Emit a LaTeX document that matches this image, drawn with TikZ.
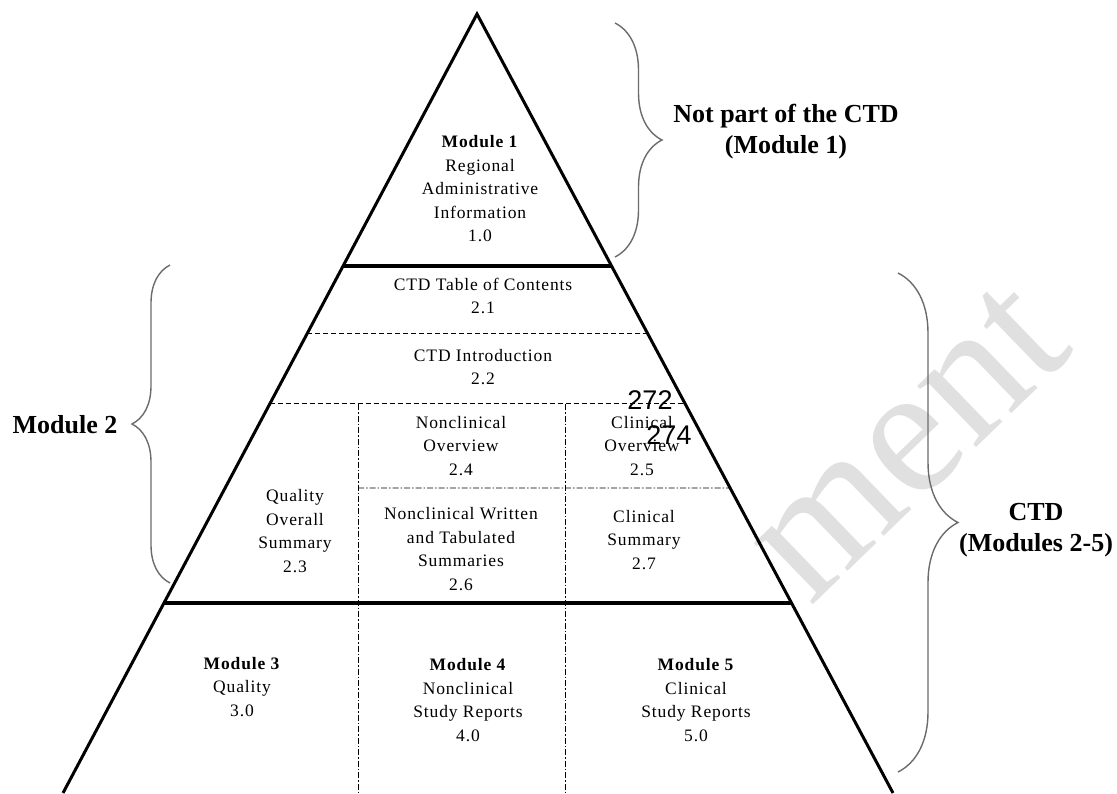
\documentclass[tikz,border=0pt]{standalone}
\usepackage{fontspec}
\setmainfont{Liberation Serif}
\newfontfamily\boxfont[LetterSpace=5]{Liberation Serif}
\newfontfamily\pagefont{Liberation Sans}
\usetikzlibrary{calc,decorations.pathreplacing}

\begin{document}
\begin{tikzpicture}[x=1pt,y=-1pt,line join=miter,
    side/.style={line width=3pt},
    rule/.style={line width=4.5pt},
    dash line/.style={line width=1pt,dash pattern=on 5pt off 3pt},
    dot line/.style={line width=0.9pt,dash pattern=on 6pt off 2pt on 1.5pt off 2pt},
    curly/.style={draw=black!58,line width=1.4pt,decorate,decoration={brace,amplitude=#1}},
    box text/.style={align=center,font=\boxfont\fontsize{17.5}{23.5}\selectfont},
    side text/.style={align=center,font=\bfseries\fontsize{26}{31}\selectfont}]
  \useasboundingbox (0,0) rectangle (1117,793);
  % watermark behind the pyramid
  \node[text=black!12,font=\fontsize{185}{185}\selectfont,rotate=44] (wm) at (908,442) {ment};

  \coordinate (top) at (477,14);
  \coordinate (bl) at (63,793);
  \coordinate (br) at (893,793);
  \coordinate (l1) at ($(top)!0.3235!(bl)$); \coordinate (r1) at ($(top)!0.3235!(br)$);
  \coordinate (l2) at ($(top)!0.4095!(bl)$); \coordinate (r2) at ($(top)!0.4095!(br)$);
  \coordinate (l3) at ($(top)!0.5006!(bl)$); \coordinate (r3) at ($(top)!0.5006!(br)$);
  \coordinate (r4) at ($(top)!0.6085!(br)$);
  \coordinate (l5) at ($(top)!0.7561!(bl)$); \coordinate (r5) at ($(top)!0.7561!(br)$);
  \coordinate (c1) at (358,404); \coordinate (c1b) at (358,793);
  \coordinate (c2) at (565,404); \coordinate (c2b) at (565,793);
  \coordinate (m4) at (358,488);

  \path (l2) edge[dash line] (r2)
        (l3) edge[dash line] (r3)
        (c1) edge[dot line] (c1b)
        (c2) edge[dot line] (c2b)
        (m4) edge[dot line] (r4);
  \path (l1) edge[rule] (r1)
        (l5) edge[rule] (r5);
  \draw[side] (bl) -- (top) -- (br);

  \node[box text] (m1) at (480,189) {\textbf{Module 1}\\Regional\\Administrative\\Information\\1.0};
  \node[box text] (s21) at (483,296) {CTD Table of Contents\\2.1};
  \node[box text] (s22) at (483,367) {CTD Introduction\\2.2};
  \node[box text] (s23) at (295,531) {Quality\\Overall\\Summary\\2.3};
  \node[box text] (s24) at (461,446) {Nonclinical\\Overview\\2.4};
  \node[box text] (s25) at (642,446) {Clinical\\Overview\\2.5};
  \node[box text] (s26) at (461,549) {Nonclinical Written\\and Tabulated\\Summaries\\2.6};
  \node[box text] (s27) at (644,540) {Clinical\\Summary\\2.7};
  \node[box text] (m3) at (242,687) {\textbf{Module 3}\\Quality\\3.0};
  \node[box text] (m4t) at (468,700) {\textbf{Module 4}\\Nonclinical\\Study Reports\\4.0};
  \node[box text] (m5) at (696,700) {\textbf{Module 5}\\Clinical\\Study Reports\\5.0};

  \node[font=\pagefont\fontsize{27}{27}\selectfont] (p272) at (650,400) {272};
  \node[font=\pagefont\fontsize{27}{27}\selectfont] (p274) at (669,435) {274};

  % braces and their labels
  \coordinate (b1a) at (615,23);  \coordinate (b1b) at (615,257);
  \coordinate (b2a) at (170,583); \coordinate (b2b) at (170,265);
  \coordinate (b3a) at (898,273); \coordinate (b3b) at (898,772);
  \draw[curly=47pt] (b1a) -- (b1b);
  \draw[curly=38pt] (b2a) -- (b2b);
  \draw[curly=60pt] (b3a) -- (b3b);
  \node[side text] (not) at (786,132) {Not part of the CTD\\(Module 1)};
  \node[side text] (mod2) at (65,425) {Module 2};
  \node[side text] (ctd) at (1036,530) {CTD\\(Modules 2-5)};
\end{tikzpicture}
\end{document}
